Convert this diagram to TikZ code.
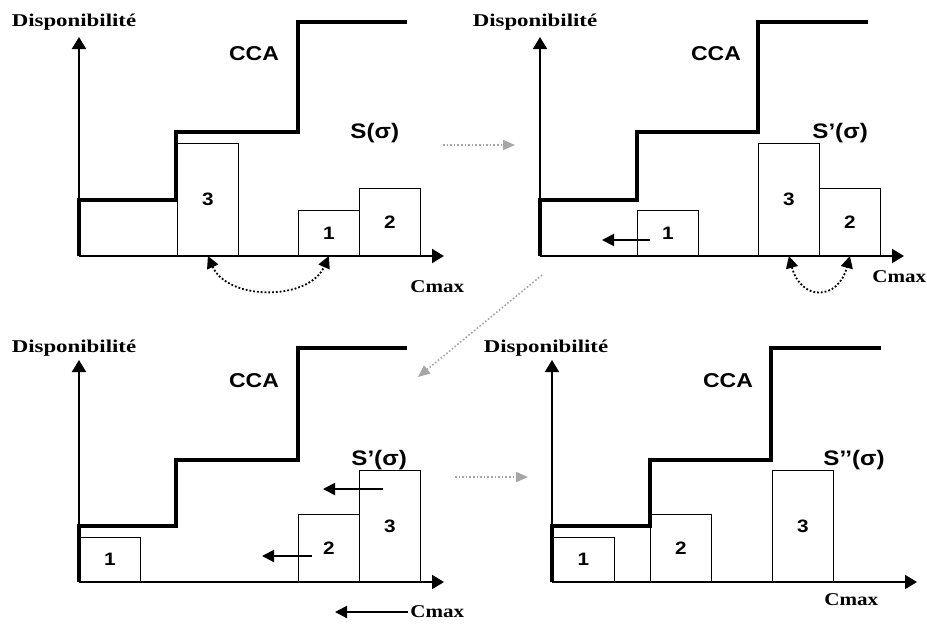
\documentclass[tikz,border=0pt]{standalone}
\usepackage{graphicx}
\usepackage{fontspec}
\setmainfont{Liberation Serif}
\newfontfamily\chartfont{Liberation Sans}
\newcommand{\ylabtext}[1]{\scalebox{1.27}[1]{#1}}
\newcommand{\xlabtext}[1]{\scalebox{1.17}[1]{#1}}
\newcommand{\sanstext}[1]{\scalebox{1.15}[1]{#1}}
\usetikzlibrary{arrows.meta}
\tikzset{
  axis/.style    = {line width=1pt, -{Triangle[length=6pt,width=7pt]}},
  cca/.style     = {line width=1.6pt},
  job/.style     = {rectangle, draw, line width=0.4pt, anchor=south west,
                    minimum width=30.5pt, inner sep=0pt,
                    font=\chartfont\bfseries\fontsize{9}{9}\selectfont},
  ylab/.style    = {inner sep=0pt, font=\bfseries\fontsize{9}{9}\selectfont},
  xlab/.style    = {inner sep=0pt, anchor=west,
                    font=\bfseries\fontsize{9}{9}\selectfont},
  ccalab/.style  = {inner sep=0pt, font=\chartfont\bfseries\fontsize{10}{10}\selectfont},
  seqlab/.style  = {inner sep=0pt, anchor=west,
                    font=\chartfont\bfseries\fontsize{10.5}{10.5}\selectfont},
  swap/.style    = {densely dotted, line width=0.9pt,
                    {Triangle[length=6pt,width=6pt]}-{Triangle[length=6pt,width=6pt]}},
  push/.style    = {line width=1pt, -{Triangle[length=6pt,width=6pt]}},
  flow/.style    = {gray!70, densely dotted, line width=0.8pt,
                    -{Triangle[length=6pt,width=5pt]}},
}
\begin{document}
\begin{tikzpicture}[x=0.5pt, y=0.5pt]
  \useasboundingbox (0,0) rectangle (927,-623);

  % panel 1: S(sigma), jobs 3 and 1 exchanged
  \begin{scope}[shift={(79,-256)}]
    \node[job, minimum height=56pt] (a3) at (98,0) {\sanstext{3}};
    \node[job, minimum height=22.5pt] (a1) at (219,0) {\sanstext{1}};
    \node[job, minimum height=33.5pt] (a2) at (280,0) {\sanstext{2}};
    \draw[axis] (0,0) -- (365,0);
    \draw[axis] (0,0) -- (0,219);
    \draw[cca] (0,0) |- (97,56) |- (219,124) |- (328,234);
    \node[ylab] (aylab) at (-5,234) {\ylabtext{Disponibilité}};
    \node[xlab] (axlab) at (331,-31) {\xlabtext{Cmax}};
    \node[ccalab] (acca) at (175,202) {\sanstext{CCA}};
    \node[seqlab] (aseq) at (271,123) {\sanstext{S(σ)}};
    \draw[swap] (a3.south) .. controls +(20,-45) and +(-20,-45) .. (a1.south);
  \end{scope}

  % panel 2: S'(sigma), job 1 shifted left
  \begin{scope}[shift={(540,-256)}]
    \node[job, minimum height=22.5pt] (b1) at (97,0) {\sanstext{1}};
    \node[job, minimum height=56pt] (b3) at (218,0) {\sanstext{3}};
    \node[job, minimum height=33.5pt] (b2) at (279,0) {\sanstext{2}};
    \draw[axis] (0,0) -- (364,0);
    \draw[axis] (0,0) -- (0,219);
    \draw[cca] (0,0) |- (97,56) |- (218,124) |- (328,234);
    \node[ylab] (bylab) at (-5,234) {\ylabtext{Disponibilité}};
    \node[xlab] (bxlab) at (332,-21) {\xlabtext{Cmax}};
    \node[ccalab] (bcca) at (176,202) {\sanstext{CCA}};
    \node[seqlab] (bseq) at (272,123) {\sanstext{S’(σ)}};
    \coordinate (bfrom) at (110,16);
    \coordinate (bto) at (62,16);
    \draw[push] (bfrom) -- (bto);
    \draw[swap] (b3.south) .. controls +(12,-45) and +(-12,-45) .. (b2.south);
  \end{scope}

  % panel 3: S'(sigma), jobs 2 and 3 pushed left
  \begin{scope}[shift={(79,-582)}]
    \node[job, minimum height=22pt] (c1) at (0,0) {\sanstext{1}};
    \node[job, minimum height=33.5pt] (c2) at (219,0) {\sanstext{2}};
    \node[job, minimum height=55.5pt] (c3) at (280,0) {\sanstext{3}};
    \draw[axis] (0,0) -- (365,0);
    \draw[axis] (0,0) -- (0,222);
    \draw[cca] (0,0) |- (97,56) |- (219,122) |- (328,234);
    \node[ylab] (cylab) at (-5,234) {\ylabtext{Disponibilité}};
    \node[xlab] (cxlab) at (331,-30) {\xlabtext{Cmax}};
    \node[ccalab] (ccca) at (175,201) {\sanstext{CCA}};
    \node[seqlab] (cseq) at (272,122) {\sanstext{S’(σ)}};
    \coordinate (c3from) at (304,93);
    \coordinate (c3to) at (244,93);
    \coordinate (c2from) at (233,26);
    \coordinate (c2to) at (183,26);
    \coordinate (cmaxto) at (256,-30);
    \draw[push] (c3from) -- (c3to);
    \draw[push] (c2from) -- (c2to);
    \draw[push] ([xshift=-1pt]cxlab.west) -- (cmaxto);
  \end{scope}

  % panel 4: S''(sigma)
  \begin{scope}[shift={(552,-582)}]
    \node[job, minimum width=31pt, minimum height=22pt] (d1) at (0,0) {\sanstext{1}};
    \node[job, minimum height=33.5pt] (d2) at (98,0) {\sanstext{2}};
    \node[job, minimum height=55.5pt] (d3) at (220,0) {\sanstext{3}};
    \draw[axis] (0,0) -- (365,0);
    \draw[axis] (0,0) -- (0,222);
    \draw[cca] (0,0) |- (98,56) |- (219,122) |- (329,234);
    \node[ylab] (dylab) at (-6,234) {\ylabtext{Disponibilité}};
    \node[xlab] (dxlab) at (272,-18) {\xlabtext{Cmax}};
    \node[ccalab] (dcca) at (176,201) {\sanstext{CCA}};
    \node[seqlab] (dseq) at (271,122) {\sanstext{S’’(σ)}};
  \end{scope}

  % transitions between panels
  \coordinate (f1s) at (443,-145);
  \coordinate (f1e) at (515,-145);
  \coordinate (f2s) at (542,-275);
  \coordinate (f2e) at (418,-377);
  \coordinate (f3s) at (455,-477);
  \coordinate (f3e) at (528,-477);
  \draw[flow] (f1s) -- (f1e);
  \draw[flow] (f2s) -- (f2e);
  \draw[flow] (f3s) -- (f3e);

\end{tikzpicture}
\end{document}
